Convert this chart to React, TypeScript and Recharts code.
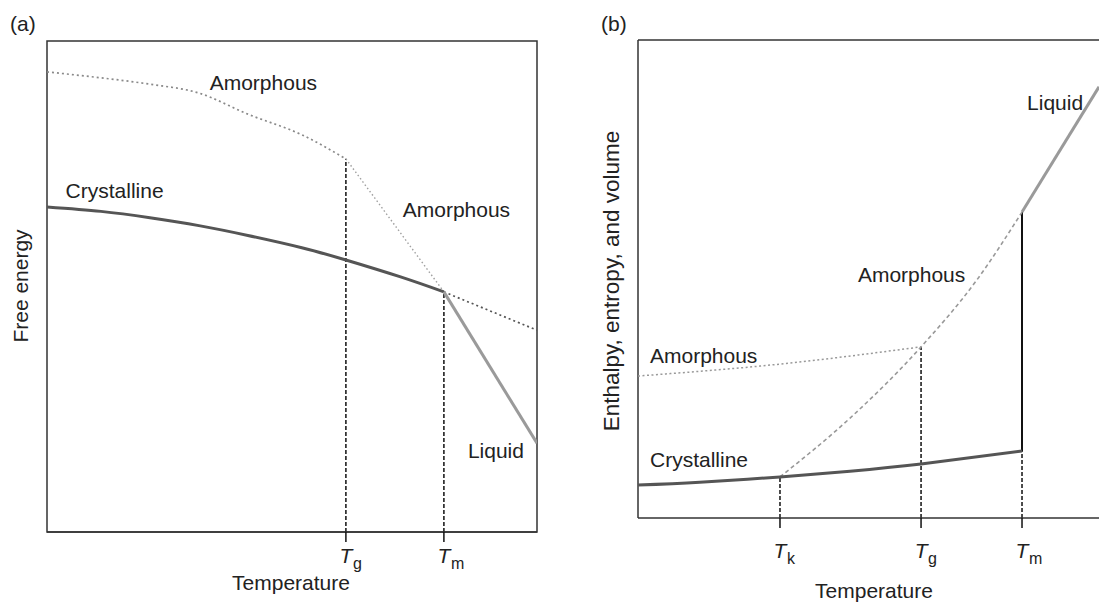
import React from 'react';
import {
  LineChart,
  Line,
  XAxis,
  YAxis,
  ReferenceArea,
  ReferenceLine,
  ReferenceDot,
} from 'recharts';

const FONT = '"Liberation Sans", Arial, Helvetica, sans-serif';
const INK = '#222';
const FRAME = '#333';
const TEXT_SIZE = 21;

// ---------- (a) Free energy against temperature ----------
const tempTicksA = [61, 81];
const tempSubsA = ['g', 'm'];

const glassTempA = [0, 11, 21, 31, 41, 52, 61];
const glassEnergyA = [93.7, 92.5, 91.2, 89.4, 85.1, 80.9, 76.0];
const supercooledTempA = [61, 81];
const supercooledEnergyA = [76.0, 48.9];
const aboveMeltTempA = [81, 100];
const aboveMeltEnergyA = [48.9, 41.1];
const crystalTempA = [0, 11, 21, 31, 41, 52, 61, 72, 81];
const crystalEnergyA = [66.2, 65.3, 64.0, 62.4, 60.4, 57.9, 55.4, 52.0, 48.9];
const liquidTempA = [81, 100];
const liquidEnergyA = [48.9, 18.1];

const notesA = [
  { text: 'Amorphous', x: 33.2, y: 90.0 },
  { text: 'Crystalline', x: 3.8, y: 68.0 },
  { text: 'Amorphous', x: 72.6, y: 64.2 },
  { text: 'Liquid', x: 85.9, y: 15.1 },
];

// ---------- (b) Enthalpy, entropy and volume against temperature ----------
const tempTicksB = [30.8, 61.4, 83.3];
const tempSubsB = ['k', 'g', 'm'];

const crystalTempB = [0, 13.4, 30.8, 46.0, 61.4, 83.3];
const crystalValueB = [6.9, 7.5, 8.6, 9.8, 11.3, 14.0];
const glassTempB = [0, 30.8, 61.4];
const glassValueB = [29.7, 32.2, 35.8];
const supercooledTempB = [30.8, 46.0, 61.4, 73.5, 83.3];
const supercooledValueB = [8.6, 20.9, 35.8, 49.8, 64.0];
const liquidTempB = [83.3, 100];
const liquidValueB = [64.0, 90.2];

const notesB = [
  { text: 'Amorphous', x: 2.6, y: 32.4 },
  { text: 'Crystalline', x: 2.6, y: 10.7 },
  { text: 'Amorphous', x: 47.7, y: 49.4 },
  { text: 'Liquid', x: 84.4, y: 85.4 },
];

const pts = (xs: number[], ys: number[]) => xs.map((x, i) => ({ x, y: ys[i] }));

const makeTick = (ticks: number[], subs: string[], dy: number) => (props: any) => {
  const { x, y, payload } = props;
  const i = ticks.indexOf(payload.value);
  return (
    <g>
      <text x={x} y={y + dy} textAnchor="middle" fontFamily={FONT} fontSize={21} fontStyle="italic" fill={INK}>
        T
      </text>
      <text x={x + 7} y={y + dy + 6} fontFamily={FONT} fontSize={16} fill={INK}>
        {subs[i]}
      </text>
    </g>
  );
};

const noteLabel = (text: string) => (props: any) => {
  const vb = props.viewBox || {};
  return (
    <text x={vb.x} y={vb.y} fontFamily={FONT} fontSize={TEXT_SIZE} fill={INK}>
      {text}
    </text>
  );
};

const guide = { stroke: '#111', strokeWidth: 1.5, strokeDasharray: '4 2' };

function PanelA() {
  return (
    <LineChart
      width={560}
      height={602}
      margin={{ top: 41, right: 23, bottom: 10, left: 47 }}
      style={{ position: 'absolute', left: 0, top: 0 }}
    >
      <XAxis
        type="number"
        dataKey="x"
        domain={[0, 100]}
        ticks={tempTicksA}
        height={60}
        axisLine={{ stroke: FRAME, strokeWidth: 1.5 }}
        tickLine={{ stroke: '#111', strokeWidth: 1.5 }}
        tickSize={10}
        tick={makeTick(tempTicksA, tempSubsA, 19)}
        allowDataOverflow
      />
      <YAxis type="number" dataKey="y" domain={[0, 100]} hide allowDataOverflow />
      <ReferenceArea x1={0} x2={100} y1={0} y2={100} fill="none" stroke={FRAME} strokeWidth={1.5} />

      <Line data={pts([tempTicksA[0], tempTicksA[0]], [0, supercooledEnergyA[0]])} dataKey="y" type="linear" dot={false} isAnimationActive={false} {...guide} />
      <Line data={pts([tempTicksA[1], tempTicksA[1]], [0, supercooledEnergyA[1]])} dataKey="y" type="linear" dot={false} isAnimationActive={false} {...guide} />

      <Line data={pts(glassTempA, glassEnergyA)} dataKey="y" type="monotone" dot={false} isAnimationActive={false} stroke="#8a8a8a" strokeWidth={1.7} strokeDasharray="2 3" />
      <Line data={pts(supercooledTempA, supercooledEnergyA)} dataKey="y" type="linear" dot={false} isAnimationActive={false} stroke="#a0a0a0" strokeWidth={1.4} strokeDasharray="1.5 2.5" />
      <Line data={pts(aboveMeltTempA, aboveMeltEnergyA)} dataKey="y" type="linear" dot={false} isAnimationActive={false} stroke="#555" strokeWidth={1.7} strokeDasharray="2 3" />
      <Line data={pts(crystalTempA, crystalEnergyA)} dataKey="y" type="natural" dot={false} isAnimationActive={false} stroke="#555" strokeWidth={3} />
      <Line data={pts(liquidTempA, liquidEnergyA)} dataKey="y" type="linear" dot={false} isAnimationActive={false} stroke="#9a9a9a" strokeWidth={3} />

      {notesA.map((n, i) => (
        <ReferenceDot key={i} x={n.x} y={n.y} r={0} fill="none" stroke="none" label={noteLabel(n.text)} />
      ))}
    </LineChart>
  );
}

function PanelB() {
  return (
    <LineChart
      width={539}
      height={602}
      margin={{ top: 40, right: 0, bottom: 24, left: 78 }}
      style={{ position: 'absolute', left: 560, top: 0 }}
    >
      <XAxis
        type="number"
        dataKey="x"
        domain={[0, 100]}
        ticks={tempTicksB}
        height={60}
        axisLine={{ stroke: FRAME, strokeWidth: 1.5 }}
        tickLine={{ stroke: '#111', strokeWidth: 1.5 }}
        tickSize={10}
        tick={makeTick(tempTicksB, tempSubsB, 28)}
        allowDataOverflow
      />
      <YAxis type="number" dataKey="y" domain={[0, 100]} hide allowDataOverflow />
      <ReferenceLine y={100} stroke={FRAME} strokeWidth={1.5} />
      <ReferenceLine x={0} stroke={FRAME} strokeWidth={1.5} />

      <Line data={pts([tempTicksB[0], tempTicksB[0]], [0, crystalValueB[2]])} dataKey="y" type="linear" dot={false} isAnimationActive={false} {...guide} />
      <Line data={pts([tempTicksB[1], tempTicksB[1]], [0, glassValueB[2]])} dataKey="y" type="linear" dot={false} isAnimationActive={false} {...guide} />
      <Line data={pts([tempTicksB[2], tempTicksB[2]], [0, crystalValueB[5]])} dataKey="y" type="linear" dot={false} isAnimationActive={false} {...guide} />
      <Line data={pts([tempTicksB[2], tempTicksB[2]], [crystalValueB[5], liquidValueB[0]])} dataKey="y" type="linear" dot={false} isAnimationActive={false} stroke="#111" strokeWidth={2} />

      <Line data={pts(glassTempB, glassValueB)} dataKey="y" type="monotone" dot={false} isAnimationActive={false} stroke="#999" strokeWidth={1.5} strokeDasharray="2 2.5" />
      <Line data={pts(supercooledTempB, supercooledValueB)} dataKey="y" type="monotone" dot={false} isAnimationActive={false} stroke="#999" strokeWidth={1.6} strokeDasharray="4 3" />
      <Line data={pts(crystalTempB, crystalValueB)} dataKey="y" type="natural" dot={false} isAnimationActive={false} stroke="#555" strokeWidth={3} />
      <Line data={pts(liquidTempB, liquidValueB)} dataKey="y" type="linear" dot={false} isAnimationActive={false} stroke="#9a9a9a" strokeWidth={3} />

      {notesB.map((n, i) => (
        <ReferenceDot key={i} x={n.x} y={n.y} r={0} fill="none" stroke="none" label={noteLabel(n.text)} />
      ))}
    </LineChart>
  );
}

export default function App() {
  return (
    <div style={{ position: 'absolute', left: 0, top: 0, width: 1099, height: 602, background: '#fff', overflow: 'hidden' }}>
      <PanelA />
      <PanelB />
      <svg width={1099} height={602} style={{ position: 'absolute', left: 0, top: 0, pointerEvents: 'none' }}>
        <g fontFamily={FONT} fontSize={TEXT_SIZE} fill={INK}>
          <text x={10} y={31}>(a)</text>
          <text x={601} y={31}>(b)</text>
          <text x={291} y={590} textAnchor="middle">Temperature</text>
          <text x={874} y={598} textAnchor="middle">Temperature</text>
          <text x={28} y={286} textAnchor="middle" transform="rotate(-90 28 286)">Free energy</text>
          <text x={619} y={281} textAnchor="middle" fontSize={22.5} transform="rotate(-90 619 281)">Enthalpy, entropy, and volume</text>
        </g>
      </svg>
    </div>
  );
}
